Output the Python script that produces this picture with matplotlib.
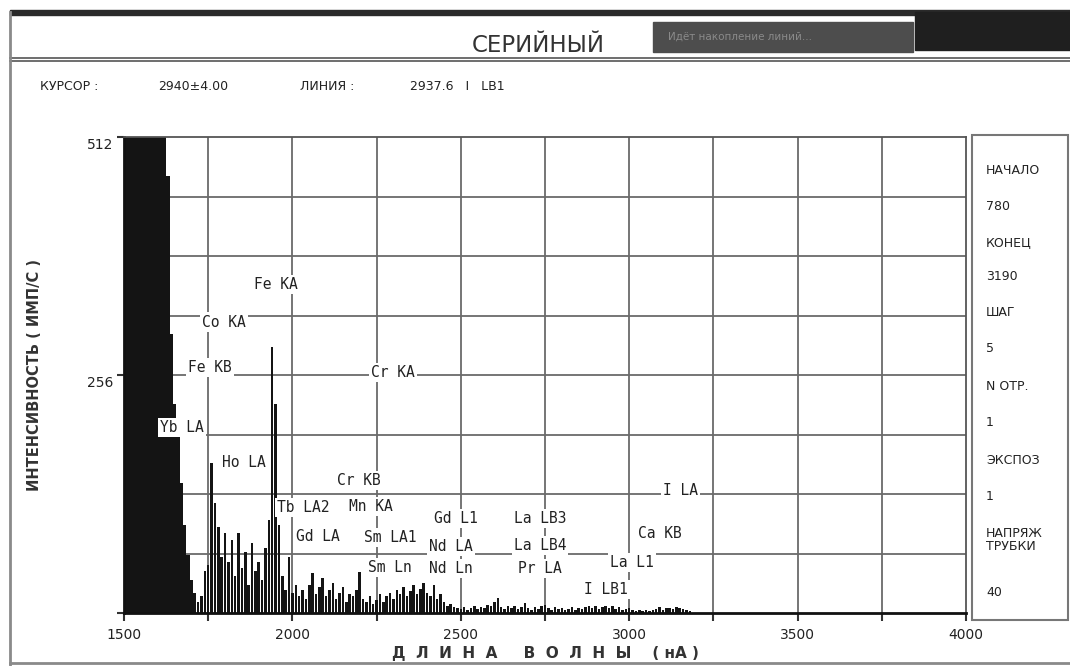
import numpy as np
import matplotlib.pyplot as plt
from matplotlib.patches import Rectangle
from matplotlib.lines import Line2D
import matplotlib.transforms as mtransforms

# spectrum scan: start 1500, step 10 (mA), intensity in imp/s (clipped at 512)
wavelength = np.arange(1500, 3200, 10)
counts = [
    512, 512, 512, 512, 512, 512, 512, 512, 512, 512,   # 1500-1590
    512, 512, 512, 470, 300, 225, 200, 140, 95, 62,      # 1600-1690
    35, 22, 12, 18, 45, 52, 161, 118, 93, 60,            # 1700-1790
    86, 55, 79, 40, 86, 48, 66, 30, 75, 45,              # 1800-1890
    55, 35, 70, 100, 286, 225, 95, 40, 25, 60,           # 1900-1990
    22, 30, 18, 25, 15, 30, 43, 20, 28, 38,              # 2000-2090
    18, 25, 32, 15, 22, 28, 12, 20, 18, 25,              # 2100-2190
    44, 15, 12, 18, 10, 14, 20, 12, 18, 22,              # 2200-2290
    15, 25, 20, 28, 18, 24, 30, 20, 26, 32,              # 2300-2390
    22, 18, 30, 15, 20, 12, 8, 10, 6, 5,                 # 2400-2490
    4, 6, 3, 5, 8, 4, 6, 5, 9, 7,                        # 2500-2590
    12, 16, 6, 4, 8, 5, 7, 4, 6, 11,                     # 2600-2690
    5, 3, 6, 4, 7, 9, 5, 3, 6, 4,                        # 2700-2790
    5, 3, 4, 6, 3, 5, 4, 6, 7, 5,                        # 2800-2890
    7, 4, 6, 8, 5, 7, 4, 6, 3, 4,                        # 2900-2990
    5, 3, 2, 3, 2, 3, 2, 3, 4, 6,                        # 3000-3090
    3, 5, 5, 4, 6, 5, 4, 3, 2, 0,                        # 3100-3190
]

# identified lines: label text and where the label sits
line_names = ['Fe KA', 'Co KA', 'Fe KB', 'Cr KA', 'Yb LA', 'Ho LA', 'Cr KB',
              'Tb LA2', 'Mn KA', 'Gd LA', 'Sm LA1', 'Sm Ln', 'Gd L1', 'Nd LA',
              'Nd Ln', 'La LB3', 'La LB4', 'Pr LA', 'I LA', 'Ca KB', 'La L1',
              'I LB1']
line_x = [1950, 1797, 1755, 2299, 1672, 1856, 2198, 2031, 2233, 2076, 2290,
          2290, 2486, 2471, 2471, 2735, 2735, 2735, 3151, 3091, 3008, 2931]
line_y = [353, 313, 264, 259, 200, 162, 143, 113, 115, 82, 81, 49, 102, 72,
          48, 102, 73, 48, 132, 86, 54, 25]

panel_items = ['НАЧАЛО', '780', 'КОНЕЦ', '3190', 'ШАГ', '5', 'N ОТР.', '1',
               'ЭКСПОЗ', '1', 'НАПРЯЖ\nТРУБКИ', '40']
panel_rows = [170, 206, 243, 277, 312, 348, 387, 422, 460, 497, 540, 592]

W, H = 1070, 666
fig = plt.figure(figsize=(10.7, 6.66), dpi=100)
fig.patch.set_facecolor('white')


def fx(x):
    return x / W


def fy(y):
    return 1 - y / H


ink = '#222222'
mono = 'DejaVu Sans Mono'

# ---- header ----
fig.add_artist(Rectangle((fx(10), fy(15)), fx(1070) - fx(10), 5 / H,
                         color='#2a2a2a', transform=fig.transFigure))
fig.add_artist(Rectangle((fx(653), fy(52)), fx(913) - fx(653), 30 / H,
                         color='#4d4d4d', transform=fig.transFigure))
fig.add_artist(Rectangle((fx(915), fy(50)), fx(1070) - fx(915), 38 / H,
                         color='#1f1f1f', transform=fig.transFigure))
fig.text(fx(668), fy(37), 'Идёт накопление линий...', color='#8a8a8a',
         fontsize=7.5, va='center', ha='left')
fig.text(fx(538), fy(46), 'СЕРИЙНЫЙ', fontsize=16.5, color='#333333',
         ha='center', va='center',
         family=['Liberation Sans Narrow', 'DejaVu Sans'])
for yy in (58, 61):
    fig.add_artist(Line2D([fx(10), fx(1070)], [fy(yy), fy(yy)],
                          color='#555555', lw=1.2, transform=fig.transFigure))
fig.add_artist(Line2D([fx(10), fx(10)], [fy(12), fy(666)], color='#8a8a8a',
                      lw=2, transform=fig.transFigure))
fig.add_artist(Line2D([fx(10), fx(1070)], [fy(663), fy(663)], color='#8a8a8a',
                      lw=2, transform=fig.transFigure))

info = [(40, 'КУРСОР :'), (158, '2940±4.00'), (300, 'ЛИНИЯ :'),
        (410, '2937.6   I   LB1')]
for xx, s in info:
    fig.text(fx(xx), fy(86), s, fontsize=9, color=ink, va='center', ha='left')

# ---- spectrum ----
ax = fig.add_axes([fx(124), fy(613), fx(966) - fx(124), fy(137) - fy(613)])
ax.set_facecolor('white')
# the strong low-wavelength edge is drawn as a solid block, the rest as spikes
widths = [10.5 if w < 1700 else 7.5 for w in wavelength]
ax.bar(wavelength, counts, width=widths, color='#141414', linewidth=0,
       zorder=2)
ax.set_xlim(1500, 4000)
ax.set_ylim(0, 512)

for gx in range(1750, 4000, 250):
    ax.axvline(gx, color='#6a6a6a', lw=1.3, zorder=1)
for gy in range(64, 512, 64):
    ax.axhline(gy, color='#6a6a6a', lw=1.3, zorder=1)

xt = list(range(1500, 4001, 250))
ax.set_xticks(xt)
ax.set_xticklabels([str(t) if t % 500 == 0 else '' for t in xt])
ax.set_yticks([0, 256, 512])
ax.set_yticklabels(['', '256', '512'])
ax.tick_params(axis='x', direction='out', length=6, width=1.5, colors='#333333',
               labelsize=10, pad=5, labelcolor=ink)
ax.tick_params(axis='y', direction='out', length=5, width=1.5, colors='#333333',
               labelsize=10, pad=3, labelcolor=ink)
shift = mtransforms.ScaledTranslation(0, -4.5 / 72, fig.dpi_scale_trans)
for lab in ax.get_yticklabels():
    lab.set_transform(lab.get_transform() + shift)

for side in ('left', 'bottom'):
    ax.spines[side].set_color('#111111')
    ax.spines[side].set_linewidth(2)
for side in ('top', 'right'):
    ax.spines[side].set_color('#555555')
    ax.spines[side].set_linewidth(1.3)

for name, lx, ly in zip(line_names, line_x, line_y):
    ax.text(lx, ly, name, family=mono, fontsize=10.5, color=ink,
            ha='center', va='center', zorder=4,
            bbox=dict(facecolor='white', edgecolor='none', pad=1.5))

ax.set_xlabel('Д  Л  И  Н  А     В  О  Л  Н  Ы    ( нА )', fontsize=11,
              fontweight='bold', color='#333333', labelpad=3)
fig.text(fx(35), fy(375), 'ИНТЕНСИВНОСТЬ ( ИМП/С )', rotation=90,
         fontsize=10.5, fontweight='bold', color='#333333', ha='center',
         va='center')

# ---- parameter panel ----
fig.add_artist(Rectangle((fx(972), fy(620)), fx(1068) - fx(972), 485 / H,
                         facecolor='white', edgecolor='#777777', lw=1.5,
                         transform=fig.transFigure))
for s, yy in zip(panel_items, panel_rows):
    fig.text(fx(986), fy(yy), s, fontsize=9, color=ink, ha='left',
             va='center', linespacing=1.0)

fig.savefig('out.png', dpi=100)
